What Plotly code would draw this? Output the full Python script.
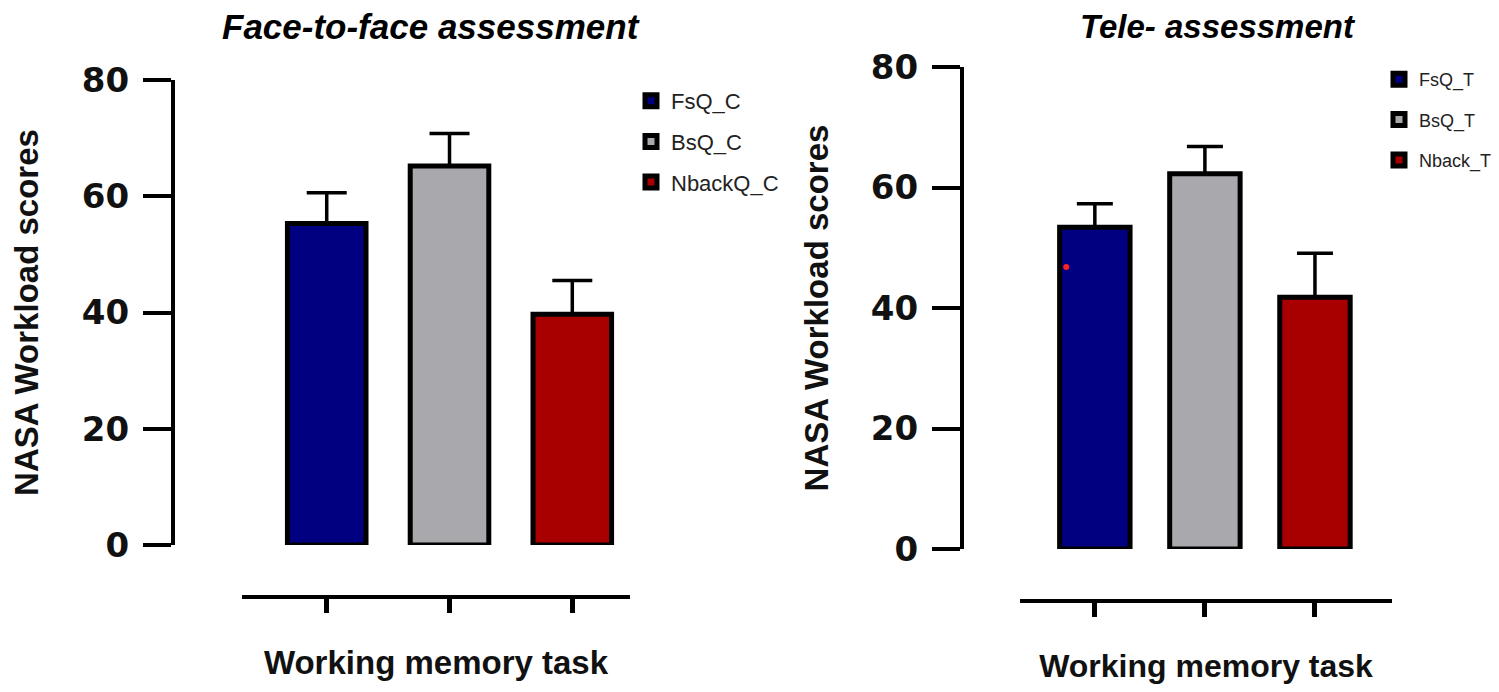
import plotly.graph_objects as go

# ---- data ----
face_labels = ["FsQ_C", "BsQ_C", "NbackQ_C"]
face_means = [55.3, 65.2, 39.7]
face_errs = [5.3, 5.6, 5.8]

tele_labels = ["FsQ_T", "BsQ_T", "Nback_T"]
tele_means = [53.4, 62.3, 41.8]
tele_errs = [3.9, 4.5, 7.3]

bar_colors = ["#000080", "#A9A9AD", "#A80000"]
y_ticks = [0, 20, 40, 60, 80]

# stray red dot visible in the reference (tele FsQ bar)
dot_x = [-0.26]
dot_y = [46.8]

# page body has an 8px margin: figure drawn inside it
OFF = 8
W, H = 1499 - 2 * OFF, 692 - 2 * OFF
def px(x):
    return (x - OFF) / W
def py(y):
    return (H - (y - OFF)) / H

fig = go.Figure()

for i, (lab, m, e) in enumerate(zip(face_labels, face_means, face_errs)):
    fig.add_trace(go.Bar(
        x=[i], y=[m], name=lab, width=0.64,
        marker=dict(color=bar_colors[i], line=dict(color="black", width=5)),
        error_y=dict(type="data", symmetric=False, array=[e], arrayminus=[0],
                     color="black", thickness=3.5, width=20),
        xaxis="x", yaxis="y", legend="legend", legendgroup="a%d" % i,
    ))

for i, (lab, m, e) in enumerate(zip(tele_labels, tele_means, tele_errs)):
    fig.add_trace(go.Bar(
        x=[i], y=[m], name=lab, width=0.64,
        marker=dict(color=bar_colors[i], line=dict(color="black", width=5)),
        error_y=dict(type="data", symmetric=False, array=[e], arrayminus=[0],
                     color="black", thickness=3.5, width=18),
        xaxis="x2", yaxis="y2", legend="legend2", legendgroup="b%d" % i,
    ))

fig.add_trace(go.Scatter(x=dot_x, y=dot_y, mode="markers",
                         marker=dict(color="#FF2020", size=6),
                         showlegend=False, xaxis="x2", yaxis="y2", hoverinfo="skip"))

tick_font = dict(family="DejaVu Sans", size=34, color="#111111", weight="bold")
ytitle_font = dict(family="Liberation Sans Narrow, Arial Narrow, Liberation Sans", size=33, color="#111111")

yaxis_common = dict(
    range=[0, 80], tickvals=y_ticks, showgrid=False, zeroline=False,
    showline=True, linewidth=4, linecolor="black",
    ticks="outside", ticklen=28, tickwidth=4, tickcolor="black",
    tickfont=tick_font, ticklabelstandoff=7,
    anchor="free", fixedrange=True, automargin=False,
)
xaxis_common = dict(
    tickvals=[0, 1, 2], showticklabels=False, showgrid=False, zeroline=False,
    showline=True, linewidth=4, linecolor="black",
    ticks="outside", ticklen=14, tickwidth=5, tickcolor="black",
    anchor="free", fixedrange=True, automargin=False,
)

fig.update_layout(
    width=W, height=H,
    margin=dict(l=0, r=0, t=0, b=0, autoexpand=False),
    paper_bgcolor="white", plot_bgcolor="white",
    barmode="overlay",
    font=dict(family="Liberation Sans", color="black"),
    xaxis=dict(xaxis_common, domain=[px(242), px(630)], range=[-0.69, 2.47],
               position=py(597),
               title=dict(text="<b>Working memory task</b>",
                          font=dict(family="Liberation Sans", size=33, color="#111111"),
                          standoff=38)),
    yaxis=dict(yaxis_common, domain=[py(545), py(80)], position=px(173),
               title=dict(text="<b>NASA Workload scores</b>", font=ytitle_font, standoff=40)),
    xaxis2=dict(xaxis_common, domain=[px(1020), px(1392)], range=[-0.68, 2.7],
                position=py(601),
                title=dict(text="<b>Working memory task</b>",
                           font=dict(family="Liberation Sans", size=32, color="#111111"),
                           standoff=42)),
    yaxis2=dict(yaxis_common, domain=[py(549), py(67)], position=px(962),
                title=dict(text="<b>NASA Workload scores</b>", font=ytitle_font, standoff=31)),
    legend=dict(x=px(631), y=py(80), xanchor="left", yanchor="top",
                font=dict(family="Liberation Sans", size=22, color="#222222"),
                tracegroupgap=9, bgcolor="rgba(0,0,0,0)"),
    legend2=dict(x=px(1379), y=py(61), xanchor="left", yanchor="top",
                 font=dict(family="Liberation Sans", size=18, color="#222222"),
                 tracegroupgap=14, bgcolor="rgba(0,0,0,0)"),
    annotations=[
        dict(text="<b><i>Face-to-face assessment</i></b>", x=px(431), y=py(27),
             xref="paper", yref="paper", xanchor="center", yanchor="middle",
             showarrow=False,
             font=dict(family="Liberation Sans", size=35, color="black")),
        dict(text="<b><i>Tele- assessment</i></b>", x=px(1218), y=py(26),
             xref="paper", yref="paper", xanchor="center", yanchor="middle",
             showarrow=False,
             font=dict(family="Liberation Sans", size=33, color="black")),
    ],
)

fig.write_html("out.html")
